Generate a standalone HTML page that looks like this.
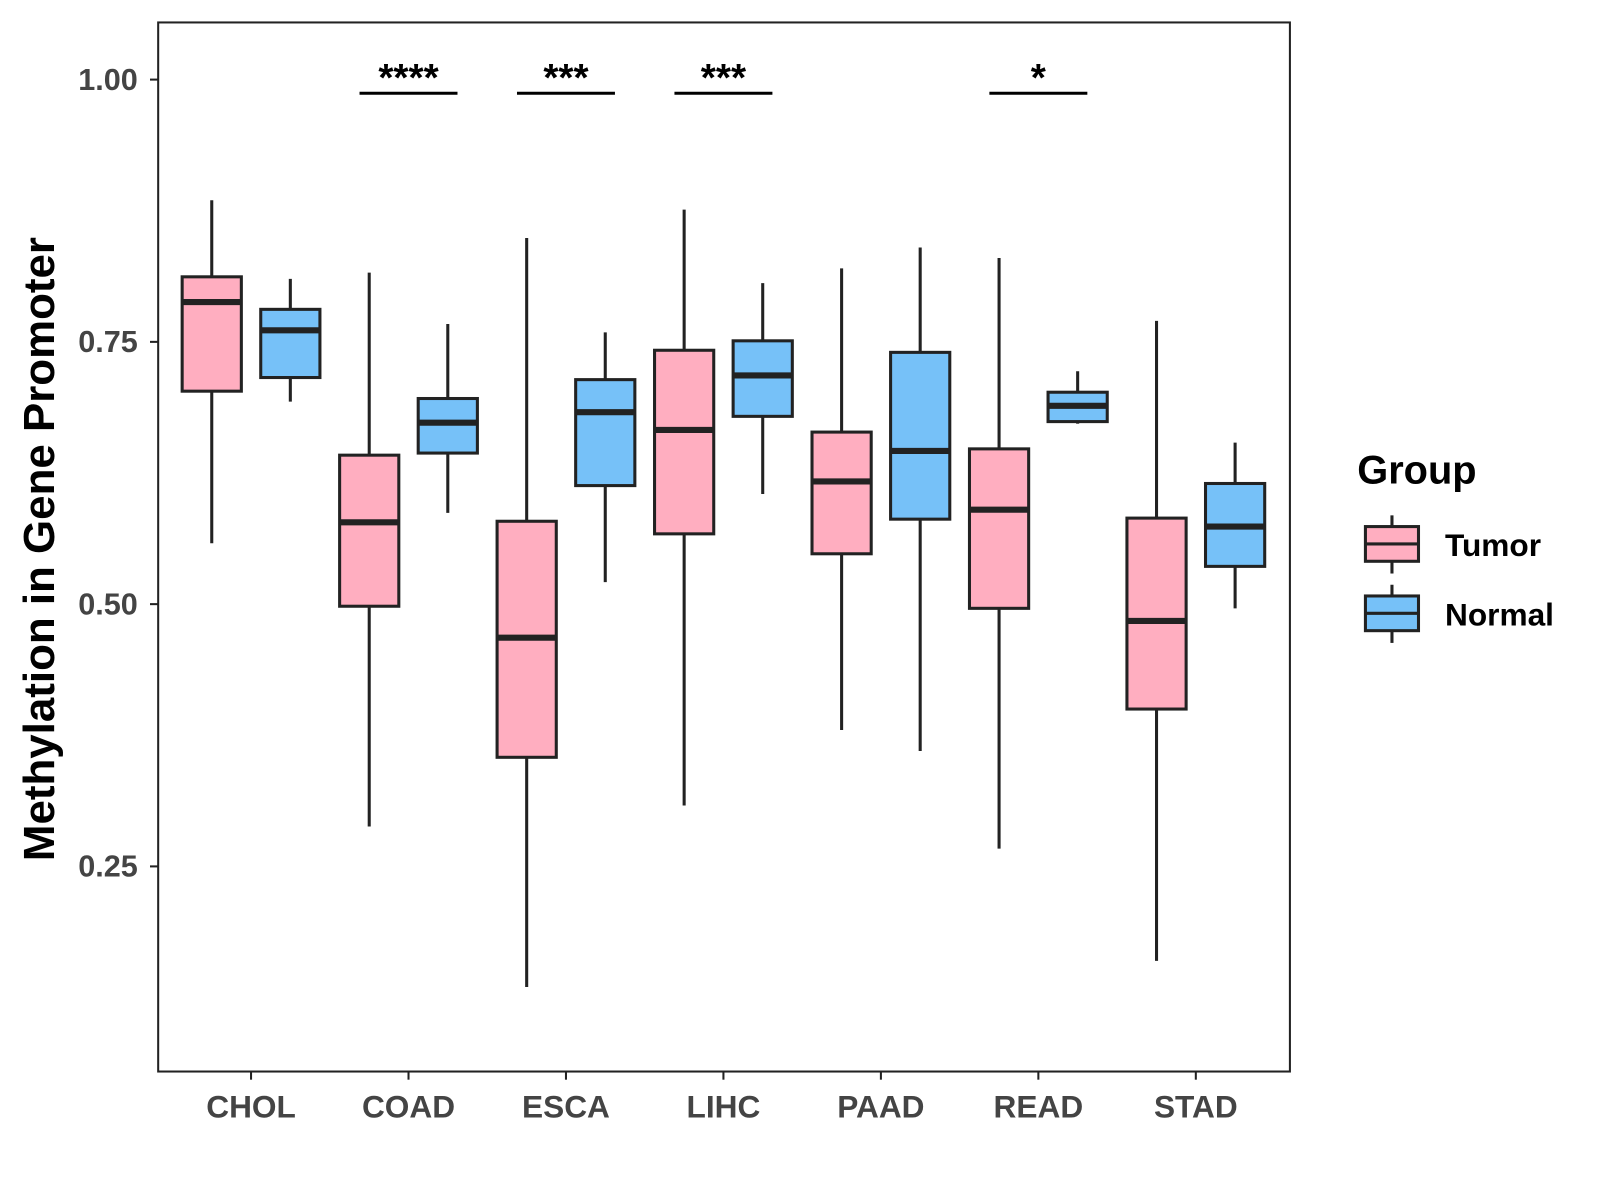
<!DOCTYPE html>
<html><head><meta charset="utf-8">
<style>
html,body{margin:0;padding:0;background:#fff;}
svg{display:block;font-family:"Liberation Sans",Arial,sans-serif;}
</style></head>
<body>
<svg id="chart" width="1600" height="1200" viewBox="0 0 1600 1200">
<g transform="scale(1.0205)">
<rect x="155" y="22" width="1109" height="1028" fill="#fff" stroke="#222" stroke-width="2"/>
<g id="yaxis"></g>
<g id="xaxis"></g>
<g id="boxes"></g>
<g id="sig"></g>
<text x="0" y="0" transform="translate(53,538) rotate(-90)" text-anchor="middle" font-size="43" font-weight="bold" fill="#000">Methylation in Gene Promoter</text>
<g>
<text x="1330" y="474" font-size="39" font-weight="bold" fill="#000">Group</text>
<g>
<line x1="1364" y1="505" x2="1364" y2="562" stroke="#222" stroke-width="3"/>
<rect x="1338" y="516" width="52" height="34" fill="#FFAEC0" stroke="#222" stroke-width="3"/>
<line x1="1338" y1="533" x2="1390" y2="533" stroke="#222" stroke-width="3"/>
<text x="1416" y="545" font-size="31" font-weight="bold" fill="#000">Tumor</text>
</g>
<g>
<line x1="1364" y1="573" x2="1364" y2="630" stroke="#222" stroke-width="3"/>
<rect x="1338" y="584" width="52" height="34" fill="#76C1F8" stroke="#222" stroke-width="3"/>
<line x1="1338" y1="601" x2="1390" y2="601" stroke="#222" stroke-width="3"/>
<text x="1416" y="613" font-size="31" font-weight="bold" fill="#000">Normal</text>
</g>
</g>
</g>
</svg>
<script>
const categories=["CHOL","COAD","ESCA","LIHC","PAAD","READ","STAD"];
// [lowWhisker, q1, median, q3, highWhisker]
const tumorStats=[[0.558,0.703,0.788,0.812,0.885],[0.288,0.498,0.578,0.642,0.816],[0.135,0.354,0.468,0.579,0.849],[0.308,0.567,0.666,0.742,0.876],[0.380,0.548,0.617,0.664,0.820],[0.267,0.496,0.590,0.648,0.830],[0.160,0.400,0.484,0.582,0.770]];
const normalStats=[[0.693,0.716,0.761,0.781,0.810],[0.587,0.644,0.673,0.696,0.767],[0.521,0.613,0.683,0.714,0.759],[0.605,0.679,0.718,0.751,0.806],[0.360,0.581,0.646,0.740,0.840],[0.672,0.674,0.689,0.702,0.722],[0.496,0.536,0.574,0.615,0.654]];
const yTicks=[0.25,0.50,0.75,1.00];
const yTickLabels=["0.25","0.50","0.75","1.00"];
const sigCategories=["COAD","ESCA","LIHC","READ"];
const sigLabels=["****","***","***","*"];
const sigLevel=0.987;

const NS="http://www.w3.org/2000/svg";
const y=v=>78+(1-v)*1028;
const x=i=>246+i*154.3;
const dodge=38.5, bw=58;
function mk(tag,attrs,parent,text){const e=document.createElementNS(NS,tag);for(const k in attrs)e.setAttribute(k,attrs[k]);if(text!==undefined)e.textContent=text;parent.appendChild(e);return e;}
const ya=document.getElementById('yaxis'),xa=document.getElementById('xaxis'),bx=document.getElementById('boxes'),sg=document.getElementById('sig');
yTicks.forEach((t,i)=>{
  const l=mk('line',{x1:147,x2:155,y1:y(t),y2:y(t),stroke:'#222','stroke-width':2},ya);
  
  
  const tx=mk('text',{x:135,y:y(t)+10,'text-anchor':'end','font-size':30,'font-weight':'bold',fill:'#444'},ya,yTickLabels[i]);
  
  
});
categories.forEach((c,i)=>{
  const l=mk('line',{x1:x(i),x2:x(i),y1:1050,y2:1058,stroke:'#222','stroke-width':2},xa);
  
  
  const tx=mk('text',{x:x(i),y:1095,'text-anchor':'middle','font-size':31,'font-weight':'bold',fill:'#444'},xa,c);
  
  
});
function box(s,cx,fill,name){
  const g=mk('g',{},bx);
  
  
  mk('line',{x1:cx,x2:cx,y1:y(s[4]),y2:y(s[0]),stroke:'#222','stroke-width':3},g);
  mk('rect',{x:cx-bw/2,y:y(s[3]),width:bw,height:y(s[1])-y(s[3]),fill:fill,stroke:'#222','stroke-width':3},g);
  mk('line',{x1:cx-bw/2,x2:cx+bw/2,y1:y(s[2]),y2:y(s[2]),stroke:'#222','stroke-width':6},g);
}
categories.forEach((c,i)=>{
  box(tumorStats[i],x(i)-dodge,'#FFAEC0','box-'+c.toLowerCase()+'-tumor');
  box(normalStats[i],x(i)+dodge,'#76C1F8','box-'+c.toLowerCase()+'-normal');
});
sigCategories.forEach((c,k)=>{
  const i=categories.indexOf(c);
  const l=mk('line',{x1:x(i)-48,x2:x(i)+48,y1:y(sigLevel),y2:y(sigLevel),stroke:'#000','stroke-width':3},sg);
  
  
  const t=mk('text',{x:x(i),y:y(sigLevel)-2,'text-anchor':'middle','font-size':38,'font-weight':'bold',fill:'#000'},sg,sigLabels[k]);
  
  
});
</script>
</body></html>
